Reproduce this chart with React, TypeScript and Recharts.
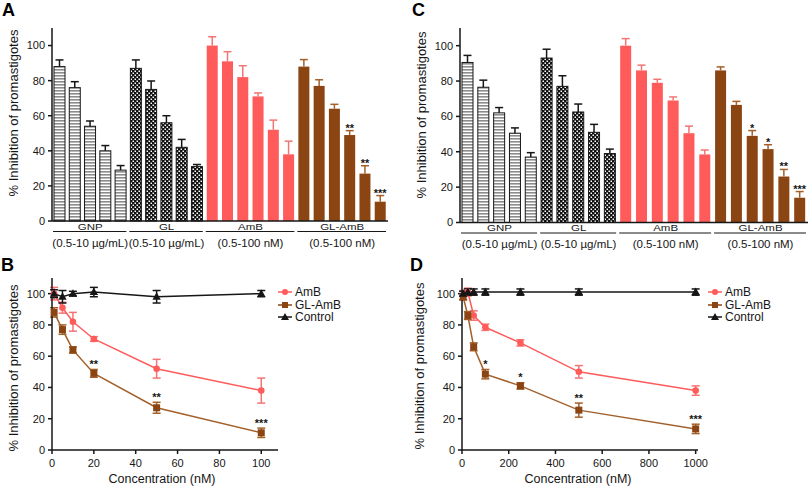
import React from "react";
import {
  BarChart,
  Bar,
  XAxis,
  YAxis,
  LineChart,
  Line,
  ErrorBar,
  Legend,
  LabelList,
  Label,
} from "recharts";

const FONT = "'Liberation Sans', Arial, Helvetica, sans-serif";
const INK = "#161616";
const PINK = "#ff5b5b";
const PINK_ERR = "#f47474";
const BROWN = "#8b4513";
const BROWN_ERR = "#a3602a";
const STRIPE = "#8c8c8c";

const groupNames = ["GNP", "GL", "AmB", "GL-AmB"];
const groupRanges = ["(0.5-10 µg/mL)", "(0.5-10 µg/mL)", "(0.5-100 nM)", "(0.5-100 nM)"];
const yTicks = [0, 20, 40, 60, 80, 100];
const yTitle = "% Inhibition of promastigotes";
const xTitle = "Concentration (nM)";

// panel A
const gnpA = [88, 76, 54, 40, 29];
const gnpErrA = [3.8, 3.4, 3, 3, 2.6];
const glA = [87, 75, 56, 42, 31];
const glErrA = [4.8, 4.8, 4, 4.5, 1.2];
const ambA = [100, 91, 82, 71, 52, 38];
const ambErrA = [5, 5.5, 6.5, 2, 5.5, 7.5];
const glAmbA = [88, 77, 64, 49, 27, 11];
const glAmbErrA = [4, 3.5, 2.5, 2.5, 4.5, 3.5];
const starsA = ["", "", "", "**", "**", "***"];

// panel C
const gnpC = [90.5, 76.5, 62, 50.5, 37];
const gnpErrC = [4, 4, 3, 3, 2.5];
const glC = [93, 77, 62.5, 51, 39];
const glErrC = [5, 6, 4.5, 4.5, 2.5];
const ambC = [100, 86, 79, 69, 50.5, 38.5];
const ambErrC = [4, 3, 2, 2, 4, 2.5];
const glAmbC = [86, 66.5, 49, 41.5, 26, 14];
const glAmbErrC = [2, 2, 3, 2.5, 4, 3.5];
const starsC = ["", "", "*", "*", "**", "***"];

// panel B
const concB = [1, 5, 10, 20, 50, 100];
const ambB = [100, 91, 82, 71, 52, 38];
const ambErrB = [4, 3.5, 6, 1.5, 6, 8];
const glAmbB = [88, 77, 64, 49, 27, 11];
const glAmbErrB = [3, 3, 2, 2.5, 3.5, 3];
const ctrlB = [100, 98, 100, 101, 98, 100];
const ctrlErrB = [2.5, 4, 1.5, 3, 4, 2];
const starsB = ["", "", "", "**", "**", "***"];
const xTicksB = [0, 20, 40, 60, 80, 100];

// panel D
const concD = [5, 25, 50, 100, 250, 500, 1000];
const ambD = [99, 101, 86, 78.5, 68.5, 50, 38];
const ambErrD = [3, 2.5, 3, 2, 2, 4, 3];
const glAmbD = [98, 86, 66, 48.5, 41, 25.5, 13.5];
const glAmbErrD = [2, 2.5, 2.5, 3, 2, 4.5, 3];
const ctrlD = [100, 101, 101, 101, 101, 101, 101];
const ctrlErrD = [1.5, 2, 2, 2, 2, 2, 2];
const starsD = ["", "", "", "*", "*", "**", "***"];
const xTicksD = [0, 200, 400, 600, 800, 1000];

const seriesNames = ["AmB", "GL-AmB", "Control"];

function buildBars(vals: number[][], errs: number[][], stars: string[]) {
  const rows: any[] = [];
  vals.forEach((g, gi) =>
    g.forEach((v, i) =>
      rows.push({
        id: `${groupNames[gi]}-${i}`,
        group: gi,
        value: v,
        err: errs[gi][i],
        star: gi === 3 ? stars[i] : "",
      })
    )
  );
  return rows;
}

function buildLines(x: number[], amb: number[], ambErr: number[], gl: number[], glErr: number[], ctrl: number[], ctrlErr: number[], stars: string[]) {
  return x.map((c, i) => ({
    x: c,
    amb: amb[i],
    ambErr: ambErr[i],
    glAmb: gl[i],
    glAmbErr: glErr[i],
    ctrl: ctrl[i],
    ctrlErr: ctrlErr[i],
    starY: gl[i] + glErr[i],
    star: stars[i],
  }));
}

const barsA = buildBars([gnpA, glA, ambA, glAmbA], [gnpErrA, glErrA, ambErrA, glAmbErrA], starsA);
const barsC = buildBars([gnpC, glC, ambC, glAmbC], [gnpErrC, glErrC, ambErrC, glAmbErrC], starsC);
const linesB = buildLines(concB, ambB, ambErrB, glAmbB, glAmbErrB, ctrlB, ctrlErrB, starsB);
const linesD = buildLines(concD, ambD, ambErrD, glAmbD, glAmbErrD, ctrlD, ctrlErrD, starsD);

const groupStarts = [0, 5, 10, 16];
const groupSizes = [5, 5, 6, 6];

const tickStyle = { fontSize: 11, fill: INK, fontFamily: FONT };

function BarShape(props: any) {
  const { x, y, width, height, payload, prefix } = props;
  const g = payload.group;
  const fill =
    g === 0 ? `url(#${prefix}-stripe)` : g === 1 ? `url(#${prefix}-check)` : g === 2 ? PINK : BROWN;
  const perUnit = height / payload.value;
  const top = y - payload.err * perUnit;
  const cx = x + width / 2;
  const errColor = g < 2 ? INK : g === 2 ? PINK_ERR : BROWN_ERR;
  return (
    <g>
      <rect
        x={x}
        y={y}
        width={width}
        height={height}
        fill={fill}
        stroke={g < 2 ? INK : "none"}
        strokeWidth={1}
      />
      <line x1={cx} y1={y} x2={cx} y2={top} stroke={errColor} strokeWidth={1.5} />
      <line x1={cx - 4} y1={top} x2={cx + 4} y2={top} stroke={errColor} strokeWidth={1.5} />
      {payload.star ? (
        <text x={cx} y={top + 1} textAnchor="middle" fontSize={11} fontWeight="bold" fill={INK} fontFamily={FONT}>
          {payload.star}
        </text>
      ) : null}
    </g>
  );
}

// group captions and brackets under the category axis
function makeGroupTick(band: number, axisY: number) {
  return (props: any) => {
    const { x, index } = props;
    const gi = groupStarts.indexOf(index);
    if (gi < 0) return <g />;
    const n = groupSizes[gi];
    const x0 = x - band / 2 + 1;
    const x1 = x - band / 2 + n * band - 2;
    const cx = x - band / 2 + (n * band) / 2;
    return (
      <g fontFamily={FONT} fill={INK}>
        <text
          transform={`translate(${cx} ${axisY + 8.5}) scale(1.25 1)`}
          textAnchor="middle"
          fontSize={9.2}
        >
          {groupNames[gi]}
        </text>
        <line x1={x0} y1={axisY + 10.5} x2={x1} y2={axisY + 10.5} stroke={INK} strokeWidth={1} />
        <text x={cx} y={axisY + 25.5} textAnchor="middle" fontSize={11.5}>
          {groupRanges[gi]}
        </text>
      </g>
    );
  };
}

function yTitleLabel(x: number, y: number) {
  return () => (
    <text
      x={x}
      y={y}
      transform={`rotate(-90 ${x} ${y})`}
      textAnchor="middle"
      dominantBaseline="central"
      fontSize={13}
      fill={INK}
      fontFamily={FONT}
    >
      {yTitle}
    </text>
  );
}

function xTitleLabel(x: number, y: number) {
  return () => (
    <text x={x} y={y} textAnchor="middle" fontSize={12.5} fill={INK} fontFamily={FONT}>
      {xTitle}
    </text>
  );
}

function Patterns({ prefix }: { prefix: string }) {
  return (
    <defs>
      <pattern id={`${prefix}-stripe`} width={4} height={3} patternUnits="userSpaceOnUse">
        <rect width={4} height={3} fill="#ffffff" />
        <rect width={4} height={1.6} fill={STRIPE} />
      </pattern>
      <pattern id={`${prefix}-check`} width={4} height={4} patternUnits="userSpaceOnUse">
        <rect width={4} height={4} fill="#111111" />
        <rect x={0.5} y={0.5} width={1.5} height={1.5} fill="#ffffff" />
        <rect x={2.5} y={2.5} width={1.5} height={1.5} fill="#ffffff" />
      </pattern>
    </defs>
  );
}

function PanelBars({ data, prefix, yAxisWidth, right, xHeight, titleX, titleY }: any) {
  const width = 400;
  const height = 262;
  const band = (width - right - yAxisWidth) / data.length;
  const axisY = height - xHeight;
  return (
    <BarChart
      width={width}
      height={height}
      data={data}
      margin={{ top: 28, right, bottom: 0, left: 0 }}
      barSize={11}
    >
      <Patterns prefix={prefix} />
      <XAxis
        dataKey="id"
        interval={0}
        height={xHeight}
        tickSize={0}
        tickMargin={0}
        tickLine={false}
        axisLine={{ stroke: INK, strokeWidth: 1.5 }}
        tick={makeGroupTick(band, axisY)}
      />
      <YAxis
        width={yAxisWidth}
        domain={[0, 110]}
        ticks={yTicks}
        tickSize={4}
        tickMargin={3}
        tick={tickStyle}
        axisLine={{ stroke: INK, strokeWidth: 1.5 }}
        tickLine={{ stroke: INK, strokeWidth: 1.5 }}
      >
        <Label content={yTitleLabel(titleX, titleY)} />
      </YAxis>
      <Bar
        dataKey="value"
        isAnimationActive={false}
        shape={(p: any) => <BarShape {...p} prefix={prefix} />}
      />
    </BarChart>
  );
}

function circleDot(p: any) {
  return <circle key={`c-${p.index}`} cx={p.cx} cy={p.cy} r={3.3} fill={PINK} />;
}
function squareDot(p: any) {
  return <rect key={`s-${p.index}`} x={p.cx - 3.5} y={p.cy - 3.5} width={7} height={7} fill={BROWN} />;
}
function triDot(p: any) {
  const { cx, cy } = p;
  return (
    <path
      key={`t-${p.index}`}
      d={`M${cx},${cy - 4.5} L${cx + 4.2},${cy + 3} L${cx - 4.2},${cy + 3} Z`}
      fill={INK}
    />
  );
}

function StarLabel(props: any) {
  const { x, y, value } = props;
  if (!value) return null;
  return (
    <text x={x} y={y - 1.5} textAnchor="middle" fontSize={11} fontWeight="bold" fill={INK} fontFamily={FONT}>
      {value}
    </text>
  );
}

const legendColors = [PINK, BROWN, INK];
const legendShapes = ["circle", "square", "triangle"];

function LegendBox() {
  return (
    <div style={{ fontFamily: FONT, fontSize: 12, color: INK, lineHeight: "12.5px" }}>
      {seriesNames.map((name, i) => (
        <div key={name} style={{ display: "flex", alignItems: "center", height: 12.5 }}>
          <svg width={17} height={12} style={{ marginRight: 1 }}>
            <line x1={1} y1={6} x2={15} y2={6} stroke={legendColors[i]} strokeWidth={1.5} />
            {legendShapes[i] === "circle" && <circle cx={8} cy={6} r={3} fill={legendColors[i]} />}
            {legendShapes[i] === "square" && <rect x={5} y={3} width={6} height={6} fill={legendColors[i]} />}
            {legendShapes[i] === "triangle" && <path d="M8,2 L12,9 L4,9 Z" fill={legendColors[i]} />}
          </svg>
          <span>{name}</span>
        </div>
      ))}
    </div>
  );
}

function PanelLines({ data, width, right, domainMax, ticks, titleX, titleY, xTitleX, legendLeft }: any) {
  return (
    <LineChart
      width={width}
      height={241}
      data={data}
      margin={{ top: 28, right, bottom: 0, left: 0 }}
    >
      <XAxis
        type="number"
        dataKey="x"
        domain={[0, domainMax]}
        ticks={ticks}
        height={41}
        tickSize={4}
        tickMargin={5}
        tick={tickStyle}
        axisLine={{ stroke: INK, strokeWidth: 1.5 }}
        tickLine={{ stroke: INK, strokeWidth: 1.5 }}
      >
        <Label content={xTitleX} />
      </XAxis>
      <YAxis
        width={52}
        domain={[0, 110]}
        ticks={yTicks}
        tickSize={4}
        tickMargin={3}
        tick={tickStyle}
        axisLine={{ stroke: INK, strokeWidth: 1.5 }}
        tickLine={{ stroke: INK, strokeWidth: 1.5 }}
      >
        <Label content={yTitleLabel(titleX, titleY)} />
      </YAxis>
      <Legend
        layout="vertical"
        align="center"
        verticalAlign="middle"
        content={() => <LegendBox />}
        wrapperStyle={{ left: legendLeft, top: 36, width: 90 }}
      />
      <Line dataKey="amb" name={seriesNames[0]} stroke={PINK} strokeWidth={1.5} dot={circleDot} isAnimationActive={false}>
        <ErrorBar dataKey="ambErr" direction="y" width={4} stroke={PINK_ERR} strokeWidth={1.5} />
      </Line>
      <Line dataKey="glAmb" name={seriesNames[1]} stroke={BROWN_ERR} strokeWidth={1.5} dot={squareDot} isAnimationActive={false}>
        <ErrorBar dataKey="glAmbErr" direction="y" width={4} stroke={BROWN_ERR} strokeWidth={1.5} />
      </Line>
      <Line dataKey="ctrl" name={seriesNames[2]} stroke={INK} strokeWidth={1.5} dot={triDot} isAnimationActive={false}>
        <ErrorBar dataKey="ctrlErr" direction="y" width={4} stroke={INK} strokeWidth={1.5} />
      </Line>
      <Line dataKey="starY" stroke="none" dot={false} legendType="none" isAnimationActive={false}>
        <LabelList dataKey="star" content={StarLabel} />
      </Line>
    </LineChart>
  );
}

const letterStyle: React.CSSProperties = {
  position: "absolute",
  fontFamily: FONT,
  fontWeight: "bold",
  fontSize: 18,
  lineHeight: 1,
  color: "#000",
};

export default function App() {
  return (
    <div style={{ position: "absolute", left: 0, top: 0, width: 810, height: 491, background: "#fff", overflow: "hidden" }}>
      <div style={{ position: "absolute", left: 0, top: 0 }}>
        <PanelBars data={barsA} prefix="pa" yAxisWidth={52} right={12} xHeight={41} titleX={13} titleY={113} />
      </div>
      <div style={{ position: "absolute", left: 410, top: 0 }}>
        <PanelBars data={barsC} prefix="pc" yAxisWidth={50} right={2} xHeight={39.5} titleX={11} titleY={115} />
      </div>
      <div style={{ position: "absolute", left: 0, top: 250 }}>
        <PanelLines
          data={linesB}
          width={410}
          right={132}
          domainMax={108}
          ticks={xTicksB}
          titleX={13}
          titleY={118}
          xTitleX={xTitleLabel(162, 233)}
          legendLeft={277}
        />
      </div>
      <div style={{ position: "absolute", left: 410, top: 250 }}>
        <PanelLines
          data={linesD}
          width={400}
          right={112}
          domainMax={1010}
          ticks={xTicksD}
          titleX={9}
          titleY={116}
          xTitleX={xTitleLabel(168, 233)}
          legendLeft={297}
        />
      </div>
      <div style={{ ...letterStyle, left: 2, top: 1 }}>A</div>
      <div style={{ ...letterStyle, left: 1, top: 256 }}>B</div>
      <div style={{ ...letterStyle, left: 412, top: 1 }}>C</div>
      <div style={{ ...letterStyle, left: 410, top: 256 }}>D</div>
    </div>
  );
}
